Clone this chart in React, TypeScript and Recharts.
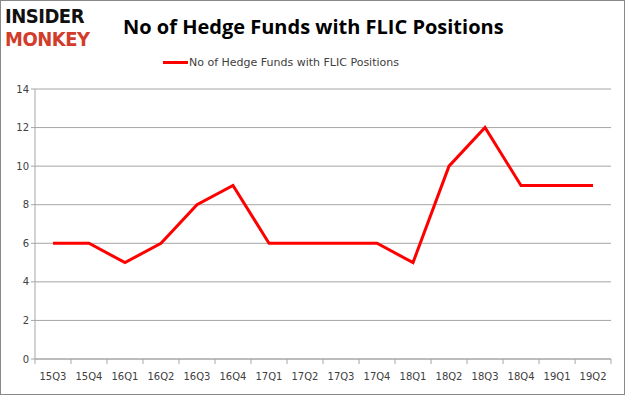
import React from 'react';
import { LineChart, Line, XAxis, YAxis, CartesianGrid } from 'recharts';

const quarters = ['15Q3', '15Q4', '16Q1', '16Q2', '16Q3', '16Q4', '17Q1', '17Q2', '17Q3', '17Q4', '18Q1', '18Q2', '18Q3', '18Q4', '19Q1', '19Q2'];
const funds = [6, 6, 5, 6, 8, 9, 6, 6, 6, 6, 5, 10, 12, 9, 9, 9];
const yTicks = [0, 2, 4, 6, 8, 10, 12, 14];

const seriesName = 'No of Hedge Funds with FLIC Positions';
const data = quarters.map((q, i) => ({ q, v: funds[i] }));

const W = 625;
const H = 395;
const LEFT = 35;
const RIGHT = 15;
const band = (W - LEFT - RIGHT) / quarters.length;
const axisColor = '#a6a6a6';
const font = 'Verdana, "DejaVu Sans", sans-serif';

const XTick = (props: any) => {
  const { x, y, payload, index } = props;
  return (
    <g>
      <line x1={x - band / 2} x2={x - band / 2} y1={y - 8} y2={y - 3} stroke={axisColor} />
      {index === quarters.length - 1 && (
        <line x1={x + band / 2} x2={x + band / 2} y1={y - 8} y2={y - 3} stroke={axisColor} />
      )}
      <text x={x} y={y + 13} textAnchor="middle" fontSize={10} fill="#404040" fontFamily={font}>
        {payload.value}
      </text>
    </g>
  );
};

export default function App() {
  return (
    <div style={{ position: 'absolute', left: 0, top: 0, width: W, height: H, background: '#fff', boxSizing: 'border-box', border: '1px solid #888' }}>
      <div style={{ position: 'absolute', left: 4, top: 4, lineHeight: '23px', fontFamily: '"DejaVu Sans Condensed", "DejaVu Sans", sans-serif', fontWeight: 700, fontSize: 20, letterSpacing: -0.5 }}>
        <div style={{ color: '#111' }}>INSIDER</div>
        <div style={{ color: '#d23c2a' }}>MONKEY</div>
      </div>
      <div style={{ position: 'absolute', left: 122, top: 12, fontFamily: '"Open Sans", sans-serif', fontWeight: 700, fontSize: 20, color: '#000', whiteSpace: 'nowrap' }}>
        No of Hedge Funds with FLIC Positions
      </div>
      <div style={{ position: 'absolute', left: 162, top: 55, display: 'flex', alignItems: 'center', fontFamily: font, fontSize: 11, color: '#404040', whiteSpace: 'nowrap' }}>
        <span style={{ display: 'inline-block', width: 25, height: 3, background: '#ff0000', marginRight: 1 }} />
        {seriesName}
      </div>
      <div style={{ position: 'absolute', left: 0, top: 0 }}>
        <LineChart width={W - 2} height={H - 2} data={data} margin={{ top: 88, right: RIGHT - 2, bottom: 10, left: 0 }}>
          <CartesianGrid vertical={false} stroke={axisColor} />
          <XAxis
            dataKey="q"
            tick={<XTick />}
            tickLine={false}
            axisLine={{ stroke: axisColor }}
            height={25}
            interval={0}
            padding={{ left: band / 2, right: band / 2 }}
          />
          <YAxis
            domain={[0, 14]}
            ticks={yTicks}
            width={LEFT - 1}
            axisLine={{ stroke: axisColor }}
            tickLine={{ stroke: axisColor }}
            tickSize={4}
            tick={{ fontSize: 10, fill: '#404040', fontFamily: font }}
          />
          <Line type="linear" dataKey="v" name={seriesName} stroke="#ff0000" strokeWidth={3} dot={false} isAnimationActive={false} />
        </LineChart>
      </div>
    </div>
  );
}
